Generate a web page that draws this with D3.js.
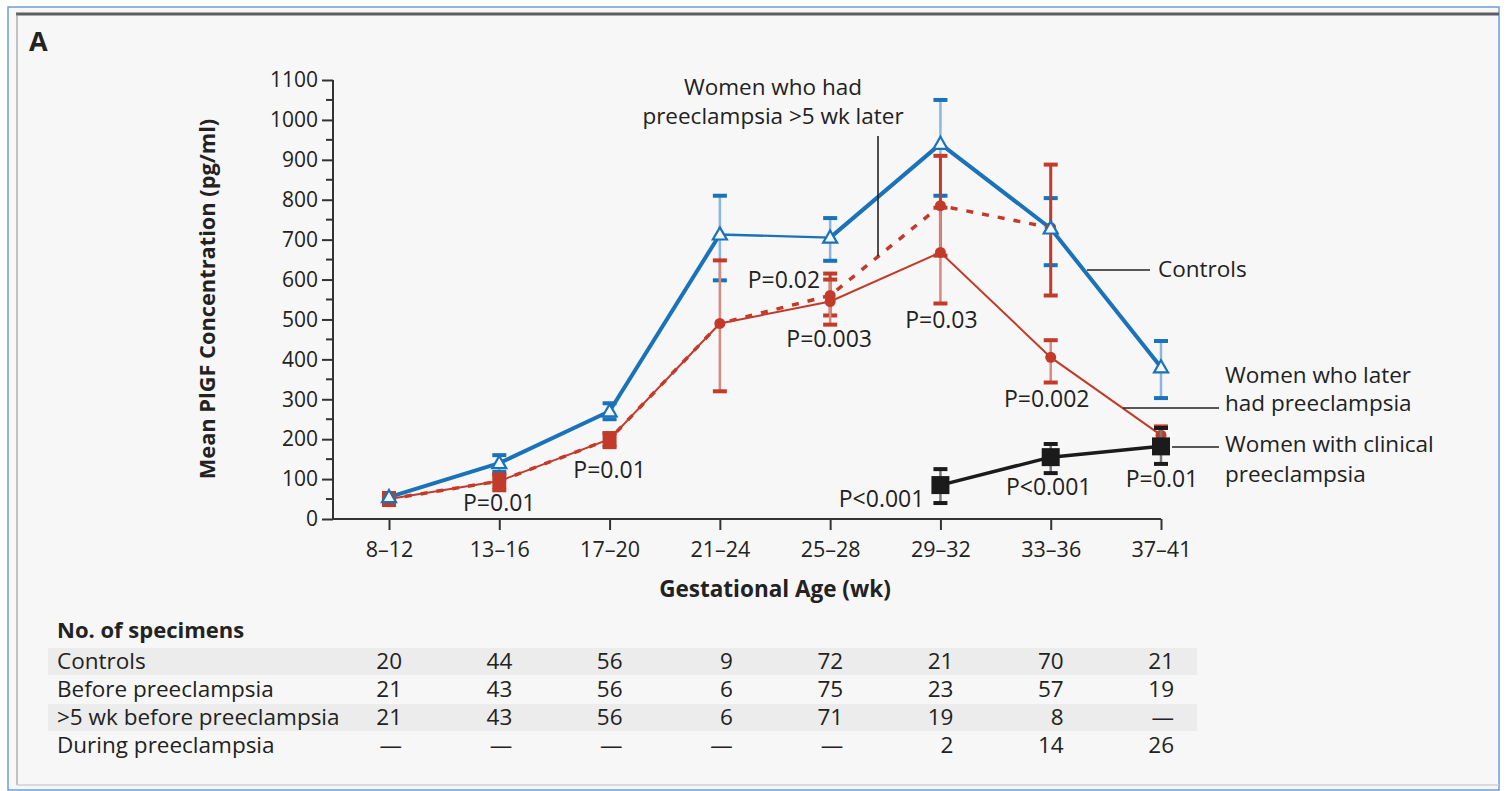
<!DOCTYPE html>
<html>
<head>
<meta charset="utf-8">
<script src="https://cdn.jsdelivr.net/npm/d3@7"></script>
<style>
  html, body { margin: 0; padding: 0; background: #ffffff; }
  svg { display: block; }
  text { font-family: "Open Sans", "Liberation Sans", sans-serif; fill: #222; }
</style>
</head>
<body>
<svg id="fig" width="1508" height="791"></svg>
<script>
// Gestational-age windows (wk)
const categories = ["8\u201312", "13\u201316", "17\u201320", "21\u201324", "25\u201328", "29\u201332", "33\u201336", "37\u201341"];

// Mean PlGF (pg/ml) with error-bar limits
const controls   = [55, 140, 270, 713, 705, 940, 728, 380];
const controlsLo = [45, 118, 250, 598, 647, 810, 636, 303];
const controlsHi = [65, 160, 290, 810, 754, 1050, 804, 446];

const before   = [50, 95, 200, 490, 545, 668, 405, 210];
const beforeLo = [42, 72, 180, 320, 487, 540, 342, 190];
const beforeHi = [58, 112, 215, 648, 600, 780, 448, 232];

const fiveWk   = [50, 95, 200, 490, 560, 785, 730, null];
const fiveWkLo = [42, 72, 180, 320, 510, 660, 560, null];
const fiveWkHi = [58, 112, 215, 648, 615, 910, 888, null];

const clinical   = [null, null, null, null, null, 85, 155, 182];
const clinicalLo = [null, null, null, null, null, 40, 115, 138];
const clinicalHi = [null, null, null, null, null, 125, 188, 228];

const yTicks = [0, 100, 200, 300, 400, 500, 600, 700, 800, 900, 1000, 1100];

// P values shown next to the points
const pLabels = [
  { i: 1, text: "P=0.01",  v: 20,   dx: 0,   anchor: "middle" },
  { i: 2, text: "P=0.01",  v: 102,  dx: 0,   anchor: "middle" },
  { i: 4, text: "P=0.02",  v: 579,  dx: -10, anchor: "end" },
  { i: 4, text: "P=0.003", v: 431,  dx: -1,  anchor: "middle" },
  { i: 5, text: "P=0.03",  v: 479,  dx: 1,   anchor: "middle" },
  { i: 5, text: "P<0.001", v: 30,   dx: -16, anchor: "end" },
  { i: 6, text: "P<0.001", v: 60,   dx: -2,  anchor: "middle" },
  { i: 6, text: "P=0.002", v: 281,  dx: -4,  anchor: "middle" },
  { i: 7, text: "P=0.01",  v: 80,   dx: 1,   anchor: "middle" }
];

// Specimen counts per window
const tableRows = ["Controls", "Before preeclampsia", ">5 wk before preeclampsia", "During preeclampsia"];
const nControls = ["20", "44", "56", "9", "72", "21", "70", "21"];
const nBefore   = ["21", "43", "56", "6", "75", "23", "57", "19"];
const nFiveWk   = ["21", "43", "56", "6", "71", "19", "8", "\u2014"];
const nDuring   = ["\u2014", "\u2014", "\u2014", "\u2014", "\u2014", "2", "14", "26"];

const BLUE = "#1a72b9", BLUE_PALE = "#8bb6df";
const RED = "#c23b2a", RED_PALE = "#d9897f";
const BLACK = "#1b1b1b";
const TXT = 22.5;

const svg = d3.select("#fig");

// panel frame
svg.append("rect").attr("x", 8).attr("y", 7).attr("width", 1491).attr("height", 783)
  .attr("fill", "#f7f7f7").attr("stroke", "#6c9fdc").attr("stroke-width", 1.5);
svg.append("line").attr("x1", 16).attr("x2", 1499).attr("y1", 14).attr("y2", 14)
  .attr("stroke", "#5e5e5e").attr("stroke-width", 3);
svg.append("line").attr("x1", 17).attr("x2", 17).attr("y1", 14).attr("y2", 785)
  .attr("stroke", "#8a8a8a").attr("stroke-width", 1);
svg.append("line").attr("x1", 17).attr("x2", 1499).attr("y1", 785).attr("y2", 785)
  .attr("stroke", "#d0d0d0").attr("stroke-width", 1.5);

svg.append("text").attr("x", 29).attr("y", 51).attr("font-size", 27).attr("font-weight", 700).text("A");

// scales
const x = d3.scalePoint().domain(categories).range([389, 1161]);
const y = d3.scaleLinear().domain([0, 1100]).range([519, 80]);
const AXIS_X = 333;

// y axis: major and minor ticks
const yAxis = svg.append("g").attr("transform", `translate(${AXIS_X},0)`)
  .call(d3.axisLeft(y).tickValues(yTicks).tickSize(11).tickPadding(4).tickFormat(d3.format("d")));
yAxis.select(".domain").remove();
yAxis.append("g").selectAll("line").data(d3.range(50, 1100, 100)).join("line")
  .attr("x1", -7).attr("x2", 0).attr("y1", d => y(d)).attr("y2", d => y(d))
  .attr("stroke", "#333").attr("stroke-width", 2);
yAxis.append("line").attr("x1", 0).attr("x2", 0).attr("y1", y(1100)).attr("y2", y(0))
  .attr("stroke", "#333").attr("stroke-width", 2);
yAxis.selectAll(".tick line").attr("stroke", "#333").attr("stroke-width", 2);
yAxis.selectAll(".tick text").attr("font-family", "'Open Sans', sans-serif").attr("font-size", 21).attr("fill", "#222");

// x axis
const xAxis = svg.append("g").attr("transform", `translate(0,${y(0)})`)
  .call(d3.axisBottom(x).tickSize(11).tickPadding(12));
xAxis.select(".domain").remove();
xAxis.append("line").attr("x1", AXIS_X).attr("x2", x(categories[categories.length - 1]))
  .attr("y1", 0).attr("y2", 0).attr("stroke", "#333").attr("stroke-width", 2);
xAxis.selectAll(".tick line").attr("stroke", "#333").attr("stroke-width", 2);
xAxis.selectAll(".tick text").attr("font-family", "'Open Sans', sans-serif").attr("font-size", 21.5).attr("fill", "#222");

// axis titles
svg.append("text").attr("transform", `translate(215,299) rotate(-90)`).attr("text-anchor", "middle")
  .attr("font-size", 21.8).attr("font-weight", 700).text("Mean PlGF Concentration (pg/ml)");
svg.append("text").attr("x", 775).attr("y", 597).attr("text-anchor", "middle")
  .attr("font-size", 22.5).attr("font-weight", 700).text("Gestational Age (wk)");

// helpers
function points(vals, lo, hi) {
  return categories.map((c, i) => ({ c, i, v: vals[i], lo: lo[i], hi: hi[i] })).filter(d => d.v != null);
}
function errorBars(g, data, stem, cap, capW, stemW) {
  const eb = g.append("g");
  eb.selectAll("line.stem").data(data).join("line").attr("class", "stem")
    .attr("x1", d => x(d.c)).attr("x2", d => x(d.c))
    .attr("y1", d => y(d.lo)).attr("y2", d => y(d.hi))
    .attr("stroke", stem).attr("stroke-width", stemW);
  ["lo", "hi"].forEach(k => {
    eb.selectAll("line.cap" + k).data(data).join("line").attr("class", "cap" + k)
      .attr("x1", d => x(d.c) - capW / 2).attr("x2", d => x(d.c) + capW / 2)
      .attr("y1", d => y(d[k])).attr("y2", d => y(d[k]))
      .attr("stroke", cap).attr("stroke-width", 4);
  });
}
const line = d3.line().x(d => x(d.c)).y(d => y(d.v));

const plot = svg.append("g");

// controls: heavy line, lighter between 21-24 and 25-28
const ctrl = points(controls, controlsLo, controlsHi);
errorBars(plot, ctrl, BLUE_PALE, BLUE, 14, 2.5);
[[0, 4, 4], [3, 5, 2.4], [4, 8, 4]].forEach(([a, b, w]) => {
  plot.append("path").datum(ctrl.slice(a, b)).attr("d", line).attr("fill", "none")
    .attr("stroke", BLUE).attr("stroke-width", w).attr("stroke-linejoin", "round");
});

// women who had preeclampsia >5 wk later (dashed)
const five = points(fiveWk, fiveWkLo, fiveWkHi);
errorBars(plot, five.slice(4), RED, RED, 14, 3);
plot.append("path").datum(five).attr("d", line).attr("fill", "none")
  .attr("stroke", RED).attr("stroke-width", 3.5).attr("stroke-dasharray", "7,9");

// women who later had preeclampsia (solid)
const bef = points(before, beforeLo, beforeHi);
errorBars(plot, bef, RED_PALE, RED, 14, 2.5);
plot.append("path").datum(bef).attr("d", line).attr("fill", "none")
  .attr("stroke", RED).attr("stroke-width", 2);

// red markers: squares for early windows, dots afterwards
plot.selectAll("rect.bsq").data(bef.filter(d => d.i < 3)).join("rect").attr("class", "bsq")
  .attr("x", d => x(d.c) - 7).attr("y", d => y(d.v) - 8).attr("width", 14).attr("height", 16)
  .attr("fill", RED);
plot.selectAll("circle.bdot").data(bef.filter(d => d.i >= 3)).join("circle").attr("class", "bdot")
  .attr("cx", d => x(d.c)).attr("cy", d => y(d.v)).attr("r", 5.5).attr("fill", RED);
plot.selectAll("circle.fdot").data(five.filter(d => d.i >= 4)).join("circle").attr("class", "fdot")
  .attr("cx", d => x(d.c)).attr("cy", d => y(d.v)).attr("r", 5.5).attr("fill", RED);

// control triangles (open)
const tri = d3.symbol().type(d3.symbolTriangle).size(85);
plot.selectAll("path.tri").data(ctrl).join("path").attr("class", "tri")
  .attr("transform", d => `translate(${x(d.c)},${y(d.v) + 1})`).attr("d", tri)
  .attr("fill", "#f7f7f7").attr("stroke", BLUE).attr("stroke-width", 2.2);

// women with clinical preeclampsia
const clin = points(clinical, clinicalLo, clinicalHi);
errorBars(plot, clin, "#777", BLACK, 14, 2.5);
plot.append("path").datum(clin).attr("d", line).attr("fill", "none")
  .attr("stroke", BLACK).attr("stroke-width", 3.5);
plot.selectAll("rect.csq").data(clin).join("rect").attr("class", "csq")
  .attr("x", d => x(d.c) - 9).attr("y", d => y(d.v) - 9).attr("width", 18).attr("height", 18)
  .attr("fill", BLACK);

// P values
svg.append("g").selectAll("text").data(pLabels).join("text")
  .attr("x", d => x(categories[d.i]) + d.dx).attr("y", d => y(d.v))
  .attr("text-anchor", d => d.anchor).attr("font-size", 23).text(d => d.text);

// series call-outs
const notes = svg.append("g").attr("font-size", TXT);
const lead = (x1, y1, x2, y2) => notes.append("line").attr("x1", x1).attr("y1", y1).attr("x2", x2).attr("y2", y2)
  .attr("stroke", "#222").attr("stroke-width", 1.6);
notes.append("text").attr("x", 773).attr("y", 95).attr("text-anchor", "middle").text("Women who had");
notes.append("text").attr("x", 773).attr("y", 124).attr("text-anchor", "middle").text("preeclampsia >5 wk later");
lead(878, 136, 878, 256);
notes.append("text").attr("x", 1158).attr("y", 277).text("Controls");
lead(1087, 270, 1150, 270);
notes.append("text").attr("x", 1225).attr("y", 383).text("Women who later");
notes.append("text").attr("x", 1225).attr("y", 411).text("had preeclampsia");
lead(1123, 408, 1219, 408);
notes.append("text").attr("x", 1225).attr("y", 452).text("Women with clinical");
notes.append("text").attr("x", 1225).attr("y", 482).text("preeclampsia");
lead(1172, 447, 1219, 447);

// specimen table
const tbl = svg.append("g");
tbl.append("text").attr("x", 57).attr("y", 638).attr("font-size", 22).attr("font-weight", 700).text("No. of specimens");
const counts = [nControls, nBefore, nFiveWk, nDuring];
tableRows.forEach((label, r) => {
  const top = 648 + r * 28;
  if (r % 2 === 0) {
    tbl.append("rect").attr("x", 48).attr("y", top).attr("width", 1149).attr("height", 27).attr("fill", "#ececec");
  }
  tbl.append("text").attr("x", 57).attr("y", top + 21).attr("font-size", TXT).text(label);
  tbl.append("g").selectAll("text").data(counts[r]).join("text")
    .attr("x", (d, i) => x(categories[i]) + 13).attr("y", top + 21)
    .attr("text-anchor", "end").attr("font-size", TXT).text(d => d);
});
</script>
</body>
</html>
